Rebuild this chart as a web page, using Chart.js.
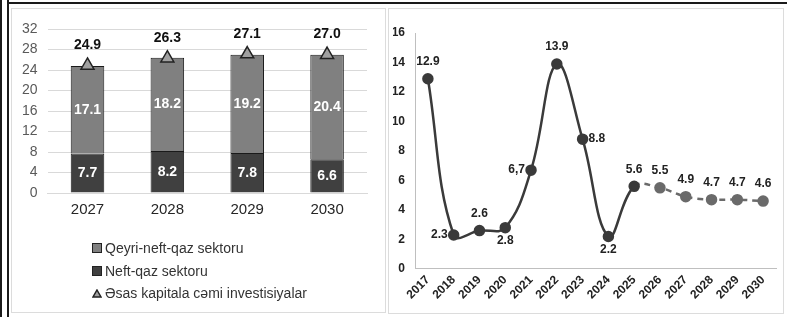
<!DOCTYPE html>
<html>
<head>
<meta charset="utf-8">
<script src="https://cdn.jsdelivr.net/npm/chart.js@4.4.1/dist/chart.umd.min.js"></script>
<style>
body { margin:0; width:787px; height:317px; background:#fff; position:relative; overflow:hidden; font-family:"Liberation Sans", Arial, sans-serif; }
.frame { position:absolute; background:#1a1a1a; }
.panel { position:absolute; border:1px solid #dcdcdc; box-sizing:border-box; background:#fff; }
#leftPanel { left:11px; top:8px; width:375px; height:305px; }
#rightPanel { left:388px; top:8px; width:396px; height:306px; }
#leftWrap { position:absolute; left:0; top:0; width:373px; height:233px; }
#rightWrap { position:absolute; left:0; top:0; width:394px; height:304px; }
#legend { position:absolute; left:80px; top:228px; font-size:14px; color:#333; }
.item { height:22.5px; display:flex; align-items:center; white-space:nowrap; }
.box { width:8px; height:8px; border:1px solid #222; margin-right:3px; }
.tri { margin-right:3px; }
</style>
</head>
<body>
<div class="frame" style="left:0;top:0;width:2px;height:317px"></div>
<div class="frame" style="left:7px;top:0;width:2px;height:317px"></div>
<div class="frame" style="left:7px;top:2px;width:780px;height:2px"></div>

<div class="panel" id="leftPanel">
  <div id="leftWrap"><canvas id="chartInvest"></canvas></div>
  <div id="legend"></div>
</div>
<div class="panel" id="rightPanel">
  <div id="rightWrap"><canvas id="chartGrowth"></canvas></div>
</div>

<script>
// sol qrafik: əsas kapitala investisiyalar
const investYears = ['2027', '2028', '2029', '2030'];
const nonOilGas = [17.1, 18.2, 19.2, 20.4];
const oilGas = [7.7, 8.2, 7.8, 6.6];
const investTotal = [24.9, 26.3, 27.1, 27.0];

// sağ qrafik: artım
const growthYears = ['2017', '2018', '2019', '2020', '2021', '2022', '2023', '2024', '2025', '2026', '2027', '2028', '2029', '2030'];
const growthValues = [12.9, 2.3, 2.6, 2.8, 6.7, 13.9, 8.8, 2.2, 5.6, 5.5, 4.9, 4.7, 4.7, 4.6];
const growthText = ['12.9', '2.3', '2.6', '2.8', '6,7', '13.9', '8.8', '2.2', '5.6', '5.5', '4.9', '4.7', '4.7', '4.6'];
const lastActual = 8; // 2025-dən sonra proqnoz

const FONT = '"Liberation Sans", Arial, sans-serif';
const labelSide = ['top', 'left', 'top', 'bottom', 'left', 'top', 'right', 'bottom', 'top', 'top', 'top', 'top', 'top', 'top'];

const investLabels = {
    id: 'investLabels',
    afterDatasetsDraw(chart) {
        const c = chart.ctx;
        c.save();
        c.textAlign = 'center';
        c.textBaseline = 'middle';
        chart.data.datasets.forEach((ds, di) => {
            chart.getDatasetMeta(di).data.forEach((el, i) => {
                const v = ds.data[i];
                c.font = 'bold 14px ' + FONT;
                if (ds.type === 'line') {
                    c.fillStyle = '#111';
                    c.fillText(v.toFixed(1), el.x, el.y - 20);
                } else {
                    c.fillStyle = '#fff';
                    c.fillText(v.toFixed(1), el.x, (el.y + el.base) / 2);
                }
            });
        });
        c.restore();
    }
};

const growthLabels = {
    id: 'growthLabels',
    afterDatasetsDraw(chart) {
        const c = chart.ctx;
        c.save();
        c.font = 'bold 12px ' + FONT;
        c.fillStyle = '#222';
        c.textBaseline = 'middle';
        chart.getDatasetMeta(0).data.forEach((pt, i) => {
            const side = labelSide[i];
            let x = pt.x, y = pt.y;
            c.textAlign = 'center';
            if (side === 'top') y -= 17;
            else if (side === 'bottom') y += 13;
            else if (side === 'left') { x -= 6; c.textAlign = 'right'; }
            else if (side === 'right') { x += 6; c.textAlign = 'left'; }
            c.fillText(growthText[i], x, y);
        });
        c.restore();
    }
};

const investChart = new Chart(document.getElementById('chartInvest'), {
    type: 'bar',
    data: {
        labels: investYears,
        datasets: [
            {
                type: 'line',
                label: 'Əsas kapitala cəmi investisiyalar',
                data: investTotal,
                showLine: false,
                pointStyle: 'triangle',
                pointRadius: 7.5,
                pointBackgroundColor: '#a0a0a0',
                pointBorderColor: '#222',
                pointBorderWidth: 1.5,
                order: 0
            },
            {
                label: 'Neft-qaz sektoru',
                data: oilGas,
                backgroundColor: '#404040',
                borderColor: '#1a1a1a',
                borderWidth: 1,
                barPercentage: 0.42,
                categoryPercentage: 1,
                order: 1
            },
            {
                label: 'Qeyri-neft-qaz sektoru',
                data: nonOilGas,
                backgroundColor: '#808080',
                borderColor: '#1a1a1a',
                borderWidth: 1,
                barPercentage: 0.42,
                categoryPercentage: 1,
                order: 1
            }
        ]
    },
    options: {
        responsive: true,
        maintainAspectRatio: false,
        animation: false,
        layout: { padding: { left: 0, right: 18, top: 20, bottom: 15 } },
        plugins: { legend: { display: false }, tooltip: { enabled: false } },
        scales: {
            x: {
                stacked: true,
                grid: { display: false, drawTicks: false },
                border: { display: true, color: '#d9d9d9' },
                ticks: { color: '#262626', font: { size: 15, family: FONT }, padding: 8 }
            },
            y: {
                stacked: true,
                min: 0, max: 32,
                grid: { color: '#d9d9d9', drawTicks: false },
                border: { display: false },
                ticks: { stepSize: 4, autoSkip: false, color: '#595959', font: { size: 14, family: FONT }, padding: 10 }
            }
        }
    },
    plugins: [investLabels]
});

// HTML legend from the dataset labels
const legendEl = document.getElementById('legend');
[2, 1, 0].forEach(di => {
    const ds = investChart.data.datasets[di];
    const row = document.createElement('div');
    row.className = 'item';
    if (ds.type === 'line') {
        row.innerHTML = '<svg class="tri" width="10" height="9"><polygon points="5,1 9,8 1,8" fill="#a0a0a0" stroke="#222" stroke-width="1.5"/></svg>';
    } else {
        row.innerHTML = '<span class="box" style="background:' + ds.backgroundColor + '"></span>';
    }
    row.appendChild(document.createTextNode(ds.label));
    legendEl.appendChild(row);
});

new Chart(document.getElementById('chartGrowth'), {
    type: 'line',
    data: {
        labels: growthYears,
        datasets: [{
            data: growthValues,
            borderColor: '#3a3a3a',
            borderWidth: 2.5,
            tension: 0.4,
            pointRadius: 4.5,
            pointBackgroundColor: ctx => ctx.dataIndex > lastActual ? '#6a6a6a' : '#3a3a3a',
            pointBorderColor: ctx => ctx.dataIndex > lastActual ? '#6a6a6a' : '#3a3a3a',
            segment: {
                borderColor: ctx => ctx.p0DataIndex >= lastActual ? '#6a6a6a' : '#3a3a3a',
                borderDash: ctx => ctx.p0DataIndex >= lastActual ? [6, 5] : undefined
            }
        }]
    },
    options: {
        responsive: true,
        maintainAspectRatio: false,
        animation: false,
        layout: { padding: { left: 4, right: 0, top: 24, bottom: 7 } },
        plugins: { legend: { display: false }, tooltip: { enabled: false } },
        scales: {
            x: {
                offset: true,
                grid: { display: false, drawTicks: false },
                border: { display: true, color: '#bfbfbf' },
                ticks: { autoSkip: false, color: '#222', font: { size: 12, weight: 'bold', family: FONT }, minRotation: 45, maxRotation: 45, padding: 4 },
                // rotated first label may hang under the y labels, as in the original
                afterFit(scale) { scale.paddingLeft = 0; scale.paddingRight = 0; }
            },
            y: {
                min: 0, max: 16,
                grid: { display: false, drawTicks: false },
                border: { display: true, color: '#bfbfbf' },
                ticks: { stepSize: 2, color: '#222', font: { size: 12, weight: 'bold', family: FONT }, padding: 10 },
                afterFit(scale) { scale.width = 22; }
            }
        }
    },
    plugins: [growthLabels]
});
</script>
</body>
</html>
